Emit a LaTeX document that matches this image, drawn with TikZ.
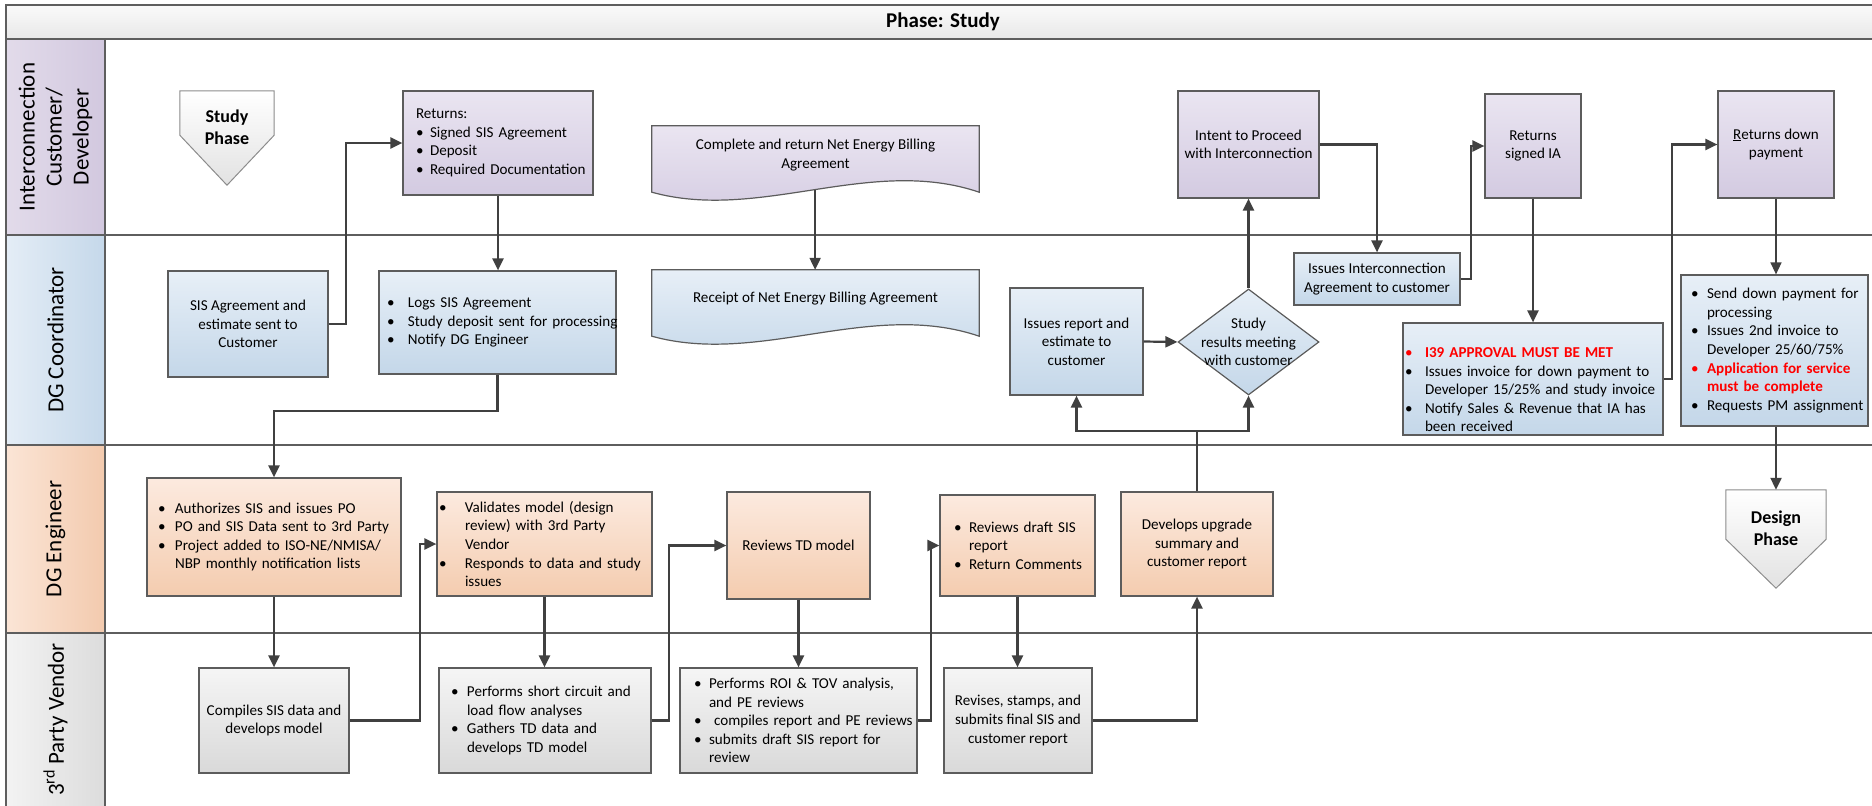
\documentclass[tikz,border=0pt]{standalone}
\usepackage{fontspec}
\setmainfont{Carlito}
\usetikzlibrary{arrows.meta,shapes.geometric,calc}

% palette
\definecolor{bdr}{HTML}{5C5C5C}
\definecolor{connc}{HTML}{404040}
\definecolor{sepc}{HTML}{5E5E5E}
\definecolor{pTop}{HTML}{EAE5F1}
\definecolor{pBot}{HTML}{D3CAE1}
\definecolor{bTop}{HTML}{E7EFF7}
\definecolor{bBot}{HTML}{C4D7E9}
\definecolor{oTop}{HTML}{FCEADF}
\definecolor{oBot}{HTML}{F4CCAF}
\definecolor{gTop}{HTML}{F5F5F5}
\definecolor{gBot}{HTML}{D9D9D9}
\definecolor{lanePL}{HTML}{E2DBEA}
\definecolor{lanePR}{HTML}{D2C8DF}
\definecolor{laneBL}{HTML}{E4EDF6}
\definecolor{laneBR}{HTML}{C5D8EA}
\definecolor{laneOL}{HTML}{FBE5D6}
\definecolor{laneOR}{HTML}{F3CAAE}
\definecolor{laneGL}{HTML}{F3F3F3}
\definecolor{laneGR}{HTML}{DCDCDC}
\definecolor{titleTop}{HTML}{FAFAFA}
\definecolor{titleBot}{HTML}{E8E8E8}
\definecolor{offTop}{HTML}{FFFFFF}
\definecolor{offBot}{HTML}{E2E2E2}
\definecolor{alertred}{HTML}{FF0000}

% text helpers
\newlength\bw
\newcommand\bodyfont{\fontsize{15.1pt}{18.6pt}\selectfont}
\newcommand\lanefont{\fontsize{23pt}{27pt}\selectfont}
\newcommand\titlefont{\fontsize{21pt}{25pt}\selectfont\bfseries}
\newcommand\phasefont{\fontsize{18pt}{22pt}\selectfont\bfseries}
\newcommand\blt[1]{\mbox{\makebox[\bw][l]{\textbullet}#1}}
\newcommand\bcn[1]{\mbox{\hspace{\bw}#1}}
\newcommand\rblt[1]{\mbox{\color{alertred}\makebox[\bw][l]{\textbullet}\bfseries #1}}
\newcommand\rbcn[1]{\mbox{\color{alertred}\hspace{\bw}\bfseries #1}}

\begin{document}
\begin{tikzpicture}[x=1pt, y=-1pt,
  box/.style={rectangle, draw=bdr, line width=1.2pt, inner ysep=0pt,
    inner xsep=2pt, font=\bodyfont, align=center},
  lbox/.style n args={3}{align=left, inner xsep=#1, text width=#2,
    execute at begin node={\setlength{\bw}{#3}}},
  pbox/.style={box, top color=pTop, bottom color=pBot},
  bbox/.style={box, top color=bTop, bottom color=bBot},
  obox/.style={box, top color=oTop, bottom color=oBot},
  gbox/.style={box, top color=gTop, bottom color=gBot},
  body/.style={rectangle, inner sep=0pt},
  txt/.style={font=\bodyfont, align=center, inner sep=0pt},
  docP/.style={draw=bdr, line width=1.2pt, top color=pTop, bottom color=pBot},
  docB/.style={draw=bdr, line width=1.2pt, top color=bTop, bottom color=bBot},
  offpg/.style={draw=black!45, line width=1pt, top color=offTop, bottom color=offBot},
  phtxt/.style={font=\phasefont, align=center, inner sep=0pt},
  lanetxt/.style={font=\lanefont, align=center, rotate=90, inner sep=0pt},
  sep/.style={draw=sepc, line width=2.6pt},
  frame/.style={draw=sepc, line width=1.6pt},
  conn/.style={draw=connc, line width=2.2pt, -{Triangle[length=12pt,width=11pt]}},
  thinconn/.style={conn, line width=1.4pt}
]
\useasboundingbox (0,0) rectangle (1872,806);

% ---- title bar and lane headers ----
\shade[top color=titleTop, bottom color=titleBot] (6,5) rectangle (1872,39);
\node[font=\titlefont] (title) at (943,22) {Phase: Study};

\shade[left color=lanePL, right color=lanePR] (6,39) rectangle (105,235);
\shade[left color=laneBL, right color=laneBR] (6,235) rectangle (105,445);
\shade[left color=laneOL, right color=laneOR] (6,445) rectangle (105,633);
\shade[left color=laneGL, right color=laneGR] (6,633) rectangle (105,806);

\node[lanetxt] (lane1) at (55.5,137) {Interconnection\\Customer/\\Developer};
\node[lanetxt] (lane2) at (55.5,340) {DG Coordinator};
\node[lanetxt] (lane3) at (55.5,539) {DG Engineer};
\node[lanetxt] (lane4) at (55.5,719.5) {3\textsuperscript{rd} Party Vendor};

\draw[frame] (1872,5) -- (6,5) -- (6,806);
\draw[sep] (6,39) -- (1872,39);
\draw[sep] (6,235) -- (1872,235);
\draw[sep] (6,445) -- (1872,445);
\draw[sep] (6,633) -- (1872,633);
\draw[sep] (105,39) -- (105,806);

% ---- Interconnection Customer / Developer ----
\node[body, minimum width=94pt, minimum height=44pt] (studyph) at (227,113) {};
\shade[offpg] (studyph.north west) -- (studyph.north east) -- (studyph.south east)
  -- ($(studyph.south)+(0,50)$) -- (studyph.south west) -- cycle;
\node[phtxt] (studytxt) at (227,127) {Study\\Phase};

\node[pbox, lbox={13pt}{164pt}{14pt}, minimum width=190pt, minimum height=104pt] (ret) at (498,143)
  {Returns:\\\blt{Signed SIS Agreement}\\\blt{Deposit}\\\blt{Required Documentation}};

\node[body, minimum width=327pt, minimum height=66pt] (neb) at (815.5,159) {};
\shade[docP] (neb.north west) -- (neb.north east) -- (neb.south east)
  .. controls +(-109,-37) and +(108,30) .. coordinate[pos=0.5] (nebout) (neb.south west) -- cycle;
\node[txt] (nebtxt) at (815.5,155) {Complete and return Net Energy Billing\\Agreement};

\node[pbox, minimum width=141pt, minimum height=107pt] (int) at (1248.5,144.5)
  {Intent to Proceed\\with Interconnection};
\node[pbox, minimum width=96pt, minimum height=104pt] (rsia) at (1533,146)
  {Returns\\signed IA};
\node[pbox, minimum width=116pt, minimum height=107pt] (rdp) at (1776,144.5)
  {\underline{R}eturns down\\payment};

% ---- DG Coordinator ----
\node[bbox, minimum width=160pt, minimum height=106pt] (sis) at (248,324)
  {SIS Agreement and\\estimate sent to\\Customer};
\node[bbox, lbox={8pt}{221pt}{21pt}, minimum width=237pt, minimum height=103pt] (logs) at (497.5,322.5)
  {\blt{Logs SIS Agreement}\\\blt{Study deposit sent for processing}\\\blt{Notify DG Engineer}};

\node[body, minimum width=327pt, minimum height=66pt] (rcpt) at (815.5,303) {};
\shade[docB] (rcpt.north west) -- (rcpt.north east) -- (rcpt.south east)
  .. controls +(-109,-37) and +(108,30) .. (rcpt.south west) -- cycle;
\node[txt] (rcpttxt) at (815.5,299) {Receipt of Net Energy Billing Agreement};

\node[bbox, minimum width=133pt, minimum height=107pt] (irep) at (1076.5,341.5)
  {Issues report and\\estimate to\\customer};
\node[diamond, draw=bdr, line width=1.2pt, top color=bTop, bottom color=bBot,
  minimum width=141pt, minimum height=106pt, inner sep=0pt] (dia) at (1248.5,342) {};
\node[txt] (diatxt) at (dia.center) {Study\\results meeting\\with customer};

\node[bbox, minimum width=166pt, minimum height=52pt] (iia) at (1377,279)
  {Issues Interconnection\\Agreement to customer};
\node[bbox, lbox={2pt}{256pt}{20pt}, minimum width=260pt, minimum height=112pt] (i39) at (1533,379)
  {\mbox{\strut}\\\rblt{I39 APPROVAL MUST BE MET}\\\blt{Issues invoice for down payment to}\\
   \bcn{Developer 15/25\% and study invoice}\\\blt{Notify Sales \& Revenue that IA has}\\
   \bcn{been received}};
\node[bbox, lbox={10pt}{167pt}{16pt}, minimum width=187pt, minimum height=151pt] (sdp) at (1774.5,350.5)
  {\blt{Send down payment for}\\\bcn{processing}\\\blt{Issues 2nd invoice to}\\
   \bcn{Developer 25/60/75\%}\\\rblt{Application for service}\\\rbcn{must be complete}\\
   \blt{Requests PM assignment}};

% ---- DG Engineer ----
\node[obox, lbox={11pt}{232pt}{17pt}, minimum width=254pt, minimum height=118pt] (auth) at (274,537)
  {\blt{Authorizes SIS and issues PO}\\\blt{PO and SIS Data sent to 3rd Party}\\
   \blt{Project added to ISO-NE/NMISA/}\\\bcn{NBP monthly notification lists}};
\node[obox, lbox={2pt}{211pt}{26pt}, minimum width=215pt, minimum height=104pt] (val) at (544.5,544)
  {\blt{Validates model (design}\\\bcn{review) with 3rd Party}\\\bcn{Vendor}\\
   \blt{Responds to data and study}\\\bcn{issues}};
\node[obox, minimum width=143pt, minimum height=107pt] (rtd) at (798.5,545.5) {Reviews TD model};
\node[obox, lbox={14pt}{127pt}{15pt}, minimum width=155pt, minimum height=101pt] (rds) at (1017.5,545.5)
  {\blt{Reviews draft SIS}\\\bcn{report}\\\blt{Return Comments}};
\node[obox, minimum width=152pt, minimum height=104pt] (dev) at (1197,544)
  {Develops upgrade\\summary and\\customer report};

\node[body, minimum width=100pt, minimum height=49pt] (design) at (1776,514.5) {};
\shade[offpg] (design.north west) -- (design.north east) -- (design.south east)
  -- ($(design.south)+(0,49)$) -- (design.south west) -- cycle;
\node[phtxt] (designtxt) at (1776,528) {Design\\Phase};

% ---- 3rd Party Vendor ----
\node[gbox, minimum width=150pt, minimum height=105pt] (comp) at (274,720.5)
  {Compiles SIS data and\\develops model};
\node[gbox, lbox={12pt}{188pt}{16pt}, minimum width=212pt, minimum height=105pt] (psc) at (545,720.5)
  {\blt{Performs short circuit and}\\\bcn{load flow analyses}\\\blt{Gathers TD data and}\\
   \bcn{develops TD model}};
\node[gbox, lbox={14pt}{209pt}{15pt}, minimum width=237pt, minimum height=105pt] (roi) at (798.5,720.5)
  {\blt{Performs ROI \& TOV analysis,}\\\bcn{and PE reviews}\\\blt{\ compiles report and PE reviews}\\
   \blt{submits draft SIS report for}\\\bcn{review}};
\node[gbox, minimum width=148pt, minimum height=105pt] (rev) at (1018,720.5)
  {Revises, stamps, and\\submits final SIS and\\customer report};

% ---- connectors ----
\draw[conn] (sis.east) -- ++(17,0) |- (ret.west);
\draw[conn] (ret.south) -- (ret.south |- logs.north);
\draw[conn] (logs.south) -- ++(0,36) -| (auth.north);
\draw[conn] (nebout) -- (nebout |- rcpt.north);
\draw[conn] (irep.east) -- (dia.west);
\draw[conn] (dia.north) -- (int.south);
\draw[conn] (int.east) -| (iia.north);
\draw[conn] (iia.east) -- ++(10,0) |- (rsia.west);
\draw[conn] (rsia.south) -- (i39.north);
\draw[conn] (i39.east) -- ++(8,0) |- (rdp.west);
\draw[thinconn] (rdp.south) -- (rdp.south |- sdp.north);
\draw[conn] (design.north |- sdp.south) -- (design.north);
\draw[conn] (auth.south) -- (comp.north);
\draw[conn] (comp.east) -- ++(70,0) |- (val.west);
\draw[conn] (val.south) -- (val.south |- psc.north);
\draw[conn] (psc.east) -- ++(17,0) |- (rtd.west);
\draw[conn] (rtd.south) -- (roi.north);
\draw[conn] (roi.east) -- ++(13,0) |- (rds.west);
\draw[conn] (rds.south) -- (rds.south |- rev.north);
\draw[conn] (rev.east) -| (dev.south);
\coordinate (jn) at (dev.north |- 0,431);
\draw[conn] (dev.north) -- (jn) -| (irep.south);
\draw[conn] (jn) -| (dia.south);
\end{tikzpicture}
\end{document}
